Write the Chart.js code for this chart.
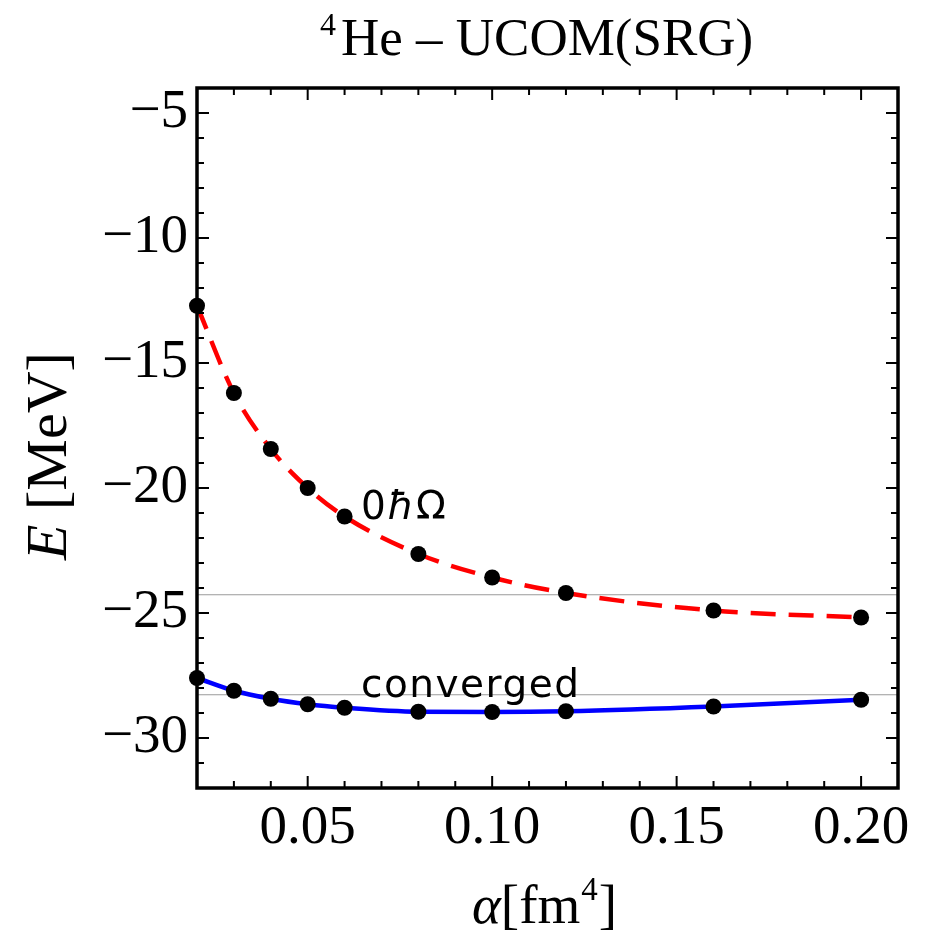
<!DOCTYPE html>
<html>
<head>
<meta charset="utf-8">
<script src="https://cdn.jsdelivr.net/npm/chart.js@4.4.1/dist/chart.umd.min.js"></script>
<style>
  body { margin: 0; background: #fff; }
  canvas { display: block; }
</style>
</head>
<body>
<canvas id="myChart" width="926" height="938"></canvas>
<script>
// alpha values [fm^4] and energies [MeV]
const alphas = [0.02, 0.03, 0.04, 0.05, 0.06, 0.08, 0.10, 0.12, 0.16, 0.20];
const energy0hw = [-12.71, -16.2, -18.44, -20.0, -21.14, -22.64, -23.58, -24.2, -24.9, -25.18];
const energyConverged = [-27.6, -28.11, -28.43, -28.65, -28.79, -28.95, -28.96, -28.93, -28.74, -28.47];
const refLines = [-24.27, -28.27];

const xRange = [0.02, 0.21];
const yRange = [-32, -4];
const xTicks = [0.05, 0.10, 0.15, 0.20];
const yTicks = [-30, -25, -20, -15, -10, -5];

const serif = '"Liberation Serif", "Times New Roman", serif';
const sans = '"DejaVu Sans", sans-serif';

const toPoints = (ys) => alphas.map((a, i) => ({ x: a, y: ys[i] }));

// frame, inward ticks, titles and curve labels
const decorations = {
  id: 'decorations',
  afterDraw(chart) {
    const ctx = chart.ctx;
    const area = chart.chartArea;
    const xs = chart.scales.x;
    const ys = chart.scales.y;
    ctx.save();

    // ticks on all four sides
    ctx.strokeStyle = '#000';
    ctx.lineWidth = 2;
    for (let k = 3; k <= 20; k++) {
      const v = k / 100;
      const px = xs.getPixelForValue(v);
      const len = (k % 5 === 0) ? 12 : 7;
      ctx.beginPath();
      ctx.moveTo(px, area.bottom); ctx.lineTo(px, area.bottom - len);
      ctx.moveTo(px, area.top); ctx.lineTo(px, area.top + len);
      ctx.stroke();
    }
    for (let v = -31; v <= -5; v++) {
      const py = ys.getPixelForValue(v);
      const len = (v % 5 === 0) ? 12 : 7;
      ctx.beginPath();
      ctx.moveTo(area.left, py); ctx.lineTo(area.left + len, py);
      ctx.moveTo(area.right, py); ctx.lineTo(area.right - len, py);
      ctx.stroke();
    }

    // frame
    ctx.lineWidth = 3.5;
    ctx.strokeRect(area.left, area.top, area.right - area.left, area.bottom - area.top);

    ctx.fillStyle = '#000';
    ctx.textBaseline = 'alphabetic';
    ctx.textAlign = 'left';

    // title: 4He - UCOM(SRG)
    let x = 320;
    ctx.font = '32px ' + serif;
    ctx.fillText('4', x, 35);
    x += ctx.measureText('4').width + 5;
    ctx.font = '53px ' + serif;
    ctx.fillText('He \u2013 UCOM(SRG)', x, 55);

    // x axis title: alpha[fm^4]
    x = 472;
    ctx.font = 'italic 55px ' + serif;
    ctx.fillText('\u03b1', x, 923);
    x += ctx.measureText('\u03b1').width;
    ctx.font = '55px ' + serif;
    ctx.fillText('[fm', x, 923);
    x += ctx.measureText('[fm').width + 1;
    ctx.font = '33px ' + serif;
    ctx.fillText('4', x, 900);
    x += ctx.measureText('4').width + 1;
    ctx.font = '55px ' + serif;
    ctx.fillText(']', x, 923);

    // y axis title: E [MeV]
    ctx.save();
    ctx.translate(66, 456);
    ctx.rotate(-Math.PI / 2);
    ctx.font = 'italic 58px ' + serif;
    const wE = ctx.measureText('E').width;
    ctx.font = '58px ' + serif;
    const wRest = ctx.measureText(' [MeV]').width;
    let ox = -(wE + wRest) / 2;
    ctx.font = 'italic 58px ' + serif;
    ctx.fillText('E', ox, 0);
    ctx.font = '58px ' + serif;
    ctx.fillText(' [MeV]', ox + wE, 0);
    ctx.restore();

    // curve labels
    ctx.letterSpacing = '1.5px';
    x = 361;
    ctx.font = '39px ' + sans;
    ctx.fillText('0', x, 519);
    x += ctx.measureText('0').width;
    ctx.font = 'oblique 39px ' + sans;
    ctx.fillText('\u0127', x, 519);
    x += ctx.measureText('\u0127').width;
    ctx.font = '39px ' + sans;
    ctx.fillText('\u03a9', x, 519);
    ctx.fillText('converged', 361, 697);

    ctx.restore();
  }
};

const seriesDataset = (data, color, dash) => ({
  data: toPoints(data),
  showLine: true,
  borderColor: color,
  borderWidth: 4.5,
  borderDash: dash,
  cubicInterpolationMode: 'monotone',
  pointRadius: 8,
  pointBackgroundColor: '#000',
  pointBorderColor: '#000',
  pointBorderWidth: 0,
  clip: false
});

const refDataset = (v) => ({
  data: [{ x: xRange[0], y: v }, { x: xRange[1], y: v }],
  showLine: true,
  borderColor: '#9a9a9a',
  borderWidth: 1.2,
  pointRadius: 0
});

new Chart('myChart', {
  type: 'scatter',
  data: {
    datasets: [
      seriesDataset(energy0hw, '#ff0000', [25, 13]),
      seriesDataset(energyConverged, '#0000ff', []),
      ...refLines.map(refDataset)
    ]
  },
  options: {
    responsive: false,
    animation: false,
    devicePixelRatio: 1,
    layout: { padding: { top: 88, right: 28, bottom: 0, left: 0 } },
    plugins: {
      legend: { display: false },
      tooltip: { enabled: false }
    },
    scales: {
      x: {
        type: 'linear',
        min: xRange[0],
        max: xRange[1],
        grid: { display: false, drawTicks: false },
        border: { display: false },
        afterBuildTicks: (scale) => { scale.ticks = xTicks.map(v => ({ value: v })); },
        afterFit: (scale) => { scale.height = 150; },
        ticks: {
          color: '#000',
          padding: 8,
          maxRotation: 0,
          font: { family: serif, size: 55 },
          callback: (v) => Number(v).toFixed(2)
        }
      },
      y: {
        type: 'linear',
        min: yRange[0],
        max: yRange[1],
        grid: { display: false, drawTicks: false },
        border: { display: false },
        afterBuildTicks: (scale) => { scale.ticks = yTicks.map(v => ({ value: v })); },
        afterFit: (scale) => { scale.width = 197; },
        ticks: {
          color: '#000',
          padding: 9,
          font: { family: serif, size: 55 },
          callback: (v) => '\u2212' + Math.abs(v)
        }
      }
    }
  },
  plugins: [decorations]
});
</script>
</body>
</html>
